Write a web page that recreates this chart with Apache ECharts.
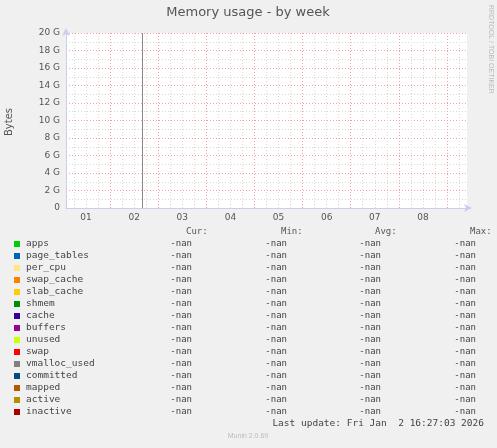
<!DOCTYPE html>
<html><head><meta charset="utf-8">
<script src="https://cdn.jsdelivr.net/npm/echarts@6/dist/echarts.min.js"></script>
<style>html,body{margin:0;background:#f0f0f0}#c{width:497px;height:448px}</style>
</head><body><div id="c"></div>
<script>
var hours = []; for (var h = 0; h <= 200; h++) hours.push(String(h));
var dayLabels = ['01','02','03','04','05','06','07','08'];
var yTicks = [0,2,4,6,8,10,12,14,16,18,20];
var spikeHour = '38';
var spikeValue = 20;
var names = ['apps','page_tables','per_cpu','swap_cache','slab_cache','shmem','cache','buffers','unused','swap','vmalloc_used','committed','mapped','active','inactive'];
var colors = ['#00cc00','#0066b3','#ffe680','#ff8000','#ffcc00','#008f00','#330099','#990099','#ccff00','#ff0000','#808080','#004d80','#b35a00','#b38f00','#a80000'];
var curVals = names.map(function(){return '-nan';});
var minVals = names.map(function(){return '-nan';});
var avgVals = names.map(function(){return '-nan';});
var maxVals = names.map(function(){return '-nan';});
var headers = ['Cur:','Min:','Avg:','Max:'];
var lastUpdate = 'Last update: Fri Jan  2 16:27:03 2026';

var mono = 'DejaVu Sans Mono';
var g = [];
var colR = [186, 281, 375, 470];
var valR = [192, 287, 381, 476];
headers.forEach(function(t,i){g.push({type:'text',left:colR[i]-30,top:227,style:{text:t,font:'9px '+mono,fill:'#555',align:'right',width:30}});});
headers.forEach(function(t,i){g[i].left=undefined;g[i].x=colR[i];g[i].y=227;g[i].style.align='right';});
var cols=[curVals,minVals,avgVals,maxVals];
names.forEach(function(n,i){
  var y=239+i*12;
  g.push({type:'rect',shape:{x:14,y:y+2,width:6,height:6},style:{fill:colors[i]}});
  g.push({type:'text',x:26,y:y,style:{text:n,font:'9.5px '+mono,fill:'#444'}});
  cols.forEach(function(c,j){g.push({type:'text',x:valR[j],y:y,style:{text:c[i],font:'9px '+mono,fill:'#444',align:'right'}});});
});
g.push({type:'text',x:484,y:419,style:{text:lastUpdate,font:'9.5px '+mono,fill:'#444',align:'right'}});
g.push({type:'text',x:248,y:433,style:{text:'Munin 2.0.69',font:'7px sans-serif',fill:'#bbb',align:'center'}});
g.push({type:'text',x:494,y:5,rotation:-Math.PI/2,style:{text:'RRDTOOL / TOBI OETIKER',font:'7px sans-serif',fill:'#bbb'}});
g.push({type:'text',x:248,y:6,style:{text:'Memory usage - by week',font:'13px "DejaVu Sans"',fill:'#555',align:'center'}});
g.push({type:'text',x:4,y:122,rotation:Math.PI/2,style:{text:'Bytes',font:'10px "DejaVu Sans"',fill:'#555',align:'center',verticalAlign:'top'}});

var chart = echarts.init(document.getElementById('c'));
var spikeData = hours.map(function(){return null;});
chart.setOption({
  backgroundColor:'#f0f0f0',
  animation:false,
  grid:{left:66,right:30,top:33,bottom:240,backgroundColor:'#fff',show:true,borderWidth:0},
  xAxis:[{
    type:'category',data:hours,boundaryGap:false,
    axisLine:{lineStyle:{color:'#ccccee'},symbol:['none','arrow'],symbolSize:[6,8],symbolOffset:[0,5]},
    axisTick:{show:false},
    axisLabel:{interval:function(i){return (i-10)%24===0;},formatter:function(v){return dayLabels[(+v-10)/24];},color:'#555',fontSize:9,fontFamily:'DejaVu Sans',margin:5},
    splitLine:{show:true,interval:function(i){return (i-22)%24===0;},lineStyle:{color:'#f4a0a0',type:[1,2],width:1}}
  },{
    type:'category',data:hours,boundaryGap:false,position:'bottom',
    axisLine:{show:false},axisTick:{show:false},axisLabel:{show:false},
    splitLine:{show:true,interval:function(i){return (i-4)%6===0 && (i-22)%24!==0;},lineStyle:{color:'#d8d8d8',type:[1,2],width:1}}
  }],
  yAxis:{
    type:'value',min:0,max:20,interval:2,
    axisLine:{show:true,lineStyle:{color:'#ccccee'},symbol:['none','arrow'],symbolSize:[6,8],symbolOffset:[0,5]},
    axisTick:{show:false},
    axisLabel:{formatter:function(v){return v===0?'0':v+' G';},color:'#555',fontSize:9,fontFamily:'DejaVu Sans',margin:6},
    splitLine:{lineStyle:{color:'#f4a0a0',type:[1,2]}},
    minorTick:{show:false,splitNumber:2},
    minorSplitLine:{show:true,lineStyle:{color:'#d8d8d8',type:[1,2]}}
  },
  series:[{
    type:'line',name:'vmalloc_used',data:spikeData,silent:true,symbol:'none',
    markLine:{symbol:'none',silent:true,label:{show:false},lineStyle:{color:'#888',type:'solid',width:1},
      data:[[{coord:[spikeHour,0]},{coord:[spikeHour,spikeValue]}]]}
  }],
  graphic:g
});
</script></body></html>
